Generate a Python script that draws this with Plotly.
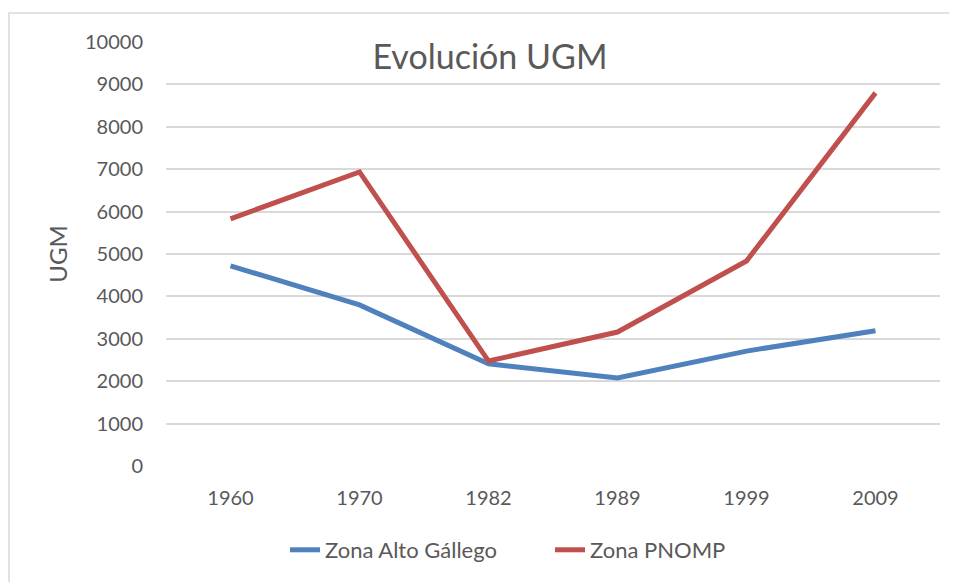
import plotly.graph_objects as go

years = ["1960", "1970", "1982", "1989", "1999", "2009"]
alto_gallego = [4720, 3800, 2410, 2075, 2710, 3190]
pnomp = [5830, 6935, 2475, 3160, 4835, 8800]
y_ticks = [0, 1000, 2000, 3000, 4000, 5000, 6000, 7000, 8000, 9000, 10000]

FONT = "Lato"
GREY = "#595959"
W, H = 957, 582
OFF = 8  # page body margin offset

fig = go.Figure()
fig.add_trace(go.Scatter(x=years, y=alto_gallego, mode="lines", name="Zona Alto Gállego",
                         line=dict(color="#4F81BD", width=5, shape="linear")))
fig.add_trace(go.Scatter(x=years, y=pnomp, mode="lines", name="Zona PNOMP",
                         line=dict(color="#C0504D", width=5, shape="linear")))

fig.update_layout(
    width=W, height=H,
    margin=dict(l=166 - OFF, r=W - (940 - OFF), t=42 - OFF, b=H - (466 - OFF), autoexpand=False),
    paper_bgcolor="white", plot_bgcolor="white",
    font=dict(family=FONT, color=GREY, size=20),
    title=dict(text="Evolución UGM", x=(490 - OFF) / W, xanchor="center",
               y=1 - (57 - OFF) / H, yanchor="middle", yref="container",
               font=dict(family=FONT, size=34, color=GREY)),
    showlegend=True,
    legend=dict(orientation="h", x=(285 - OFF) / W, xanchor="left", xref="container",
                y=1 - (550 - OFF) / H, yanchor="middle", yref="container",
                font=dict(size=22, color=GREY), entrywidth=220, traceorder="normal"),
    xaxis=dict(type="category", range=[-0.5, 5.5], showgrid=False, zeroline=False,
               showline=False, automargin=False,
               ticks="", ticklabelstandoff=18, tickfont=dict(size=20, color=GREY)),
    yaxis=dict(range=[0, 10000], tickvals=y_ticks, ticktext=[str(v) for v in y_ticks],
               showgrid=True, gridcolor="#D9D9D9", gridwidth=1.5, automargin=False,
               zeroline=False, showline=False, ticks="", ticklabelstandoff=22,
               tickfont=dict(size=20, color=GREY),
               title=dict(text="UGM", font=dict(size=24, color=GREY), standoff=10)),
    shapes=[dict(type="rect", xref="paper", yref="paper",
                 x0=-(166 - 9) / 774, x1=1 + 30 / 774, y0=-(H - 466 + 20) / 424, y1=1 + (42 - 13) / 424,
                 line=dict(color="#D9D9D9", width=1.5), fillcolor="rgba(0,0,0,0)",
                 layer="below")],
)

fig.write_html("out.html")
